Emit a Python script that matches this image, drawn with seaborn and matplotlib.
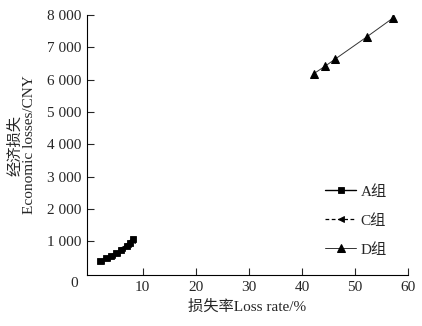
import pandas as pd
import matplotlib

matplotlib.use('Agg')
import matplotlib.pyplot as plt
import seaborn as sns
from matplotlib.ticker import FuncFormatter

# values
a_x = [2.0, 3.0, 4.0, 5.0, 6.0, 7.0, 7.6, 8.2]
a_y = [380, 470, 540, 620, 740, 840, 950, 1080]
c_x = [2.2, 3.2, 4.2, 5.2, 6.2, 7.2, 8.0]
c_y = [400, 490, 560, 650, 780, 900, 1040]
d_x = [42.2, 44.4, 46.3, 52.2, 57.1]
d_y = [6180, 6420, 6640, 7320, 7900]

groups = ["A组", "C组", "D组"]

sns.set_style("ticks")
plt.rcParams['font.family'] = ['Liberation Serif', 'Noto Sans CJK SC']
plt.rcParams['font.size'] = 11

fig = plt.figure(figsize=(4.22, 3.26), dpi=100)
ax = fig.add_axes([0.206, 0.156, 0.761, 0.798])

sns.lineplot(x=a_x, y=a_y, color="black", marker="s", markersize=4,
             markeredgecolor="black", markeredgewidth=0.6,
             linewidth=1.0, label=groups[0], ax=ax)
sns.lineplot(x=c_x, y=c_y, color="black", marker="<", markersize=4,
             markeredgecolor="black", markeredgewidth=0.6,
             linewidth=0.9, linestyle=(0, (3, 2)), label=groups[1], ax=ax)
sns.lineplot(x=d_x, y=d_y, color="#333333", marker="^", markersize=5.5,
             markerfacecolor="black", markeredgecolor="black",
             linewidth=0.7, label=groups[2], ax=ax)

ax.set_xlim(-0.5, 60)
ax.set_ylim(-50, 8000)
ax.set_xticks([10, 20, 30, 40, 50, 60])
ax.set_yticks([1000, 2000, 3000, 4000, 5000, 6000, 7000, 8000])
ax.yaxis.set_major_formatter(FuncFormatter(lambda v, p: f"{int(v):,}".replace(",", " ")))
ax.tick_params(direction="in", length=5, width=0.8, labelsize=11, pad=4)
ax.text(-0.04, -0.032, "0", transform=ax.transAxes, ha="center", va="center", fontsize=11)

sns.despine(ax=ax)
for s in ["left", "bottom"]:
    ax.spines[s].set_linewidth(0.8)
    ax.spines[s].set_color("black")

ax.set_xlabel("损失率Loss rate/%", fontsize=11, labelpad=4)
ax.set_ylabel("经济损失\nEconomic losses/CNY", fontsize=11, labelpad=8, linespacing=1.1)

leg = ax.legend(loc="upper left", bbox_to_anchor=(0.7, 0.40), frameon=False,
                labelspacing=1.0, handlelength=2.0, handletextpad=0.3, fontsize=11)

plt.savefig("out.png", dpi=100)
